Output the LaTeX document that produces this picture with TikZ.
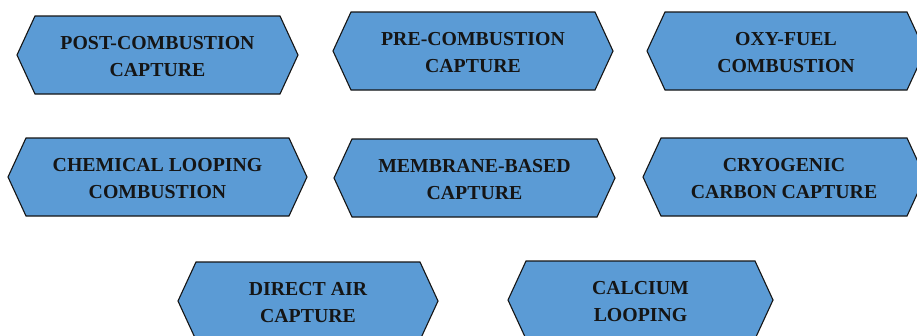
\documentclass[tikz,border=0pt]{standalone}
\usepackage{fontspec}
\setmainfont{Liberation Serif}
\definecolor{boxblue}{HTML}{5B9BD5}
\definecolor{inkdark}{HTML}{151515}
\tikzset{
  hexbox/.style={fill=boxblue, draw=inkdark, line width=1.1pt, line join=miter},
  lbl/.style={font=\bfseries\fontsize{19.8}{27}\selectfont, align=center, text=inkdark, inner sep=0pt}
}
\newcommand\hexat[6]{%
  \draw[hexbox] ({#2},{(#4+#5)/2}) -- ({#2+18},{#4}) -- ({#3-18},{#4}) -- ({#3},{(#4+#5)/2}) -- ({#3-18},{#5}) -- ({#2+18},{#5}) -- cycle;
  \node[lbl] (#1) at ({(#2+#3)/2},{(#4+#5)/2+2}) {#6};%
}
\begin{document}
\begin{tikzpicture}[x=1pt,y=-1pt]
\useasboundingbox (0,0) rectangle (917,335);
\clip (0,0) rectangle (917,335);
\fill[white] (0,0) rectangle (917,335);
\hexat{post}{17}{298}{16}{94}{POST-COMBUSTION\\CAPTURE}
\hexat{pre}{333}{613}{12}{90}{PRE-COMBUSTION\\CAPTURE}
\hexat{oxy}{647}{925}{12}{90}{OXY-FUEL\\COMBUSTION}
\hexat{chem}{8}{307}{138}{216}{CHEMICAL LOOPING\\COMBUSTION}
\hexat{memb}{334}{615}{139}{217}{MEMBRANE-BASED\\CAPTURE}
\hexat{cryo}{643}{925}{138}{216}{CRYOGENIC\\CARBON CAPTURE}
\hexat{dac}{178}{438}{262}{340}{DIRECT AIR\\CAPTURE}
\hexat{calc}{508}{773}{261}{339}{CALCIUM\\LOOPING}
\end{tikzpicture}
\end{document}
